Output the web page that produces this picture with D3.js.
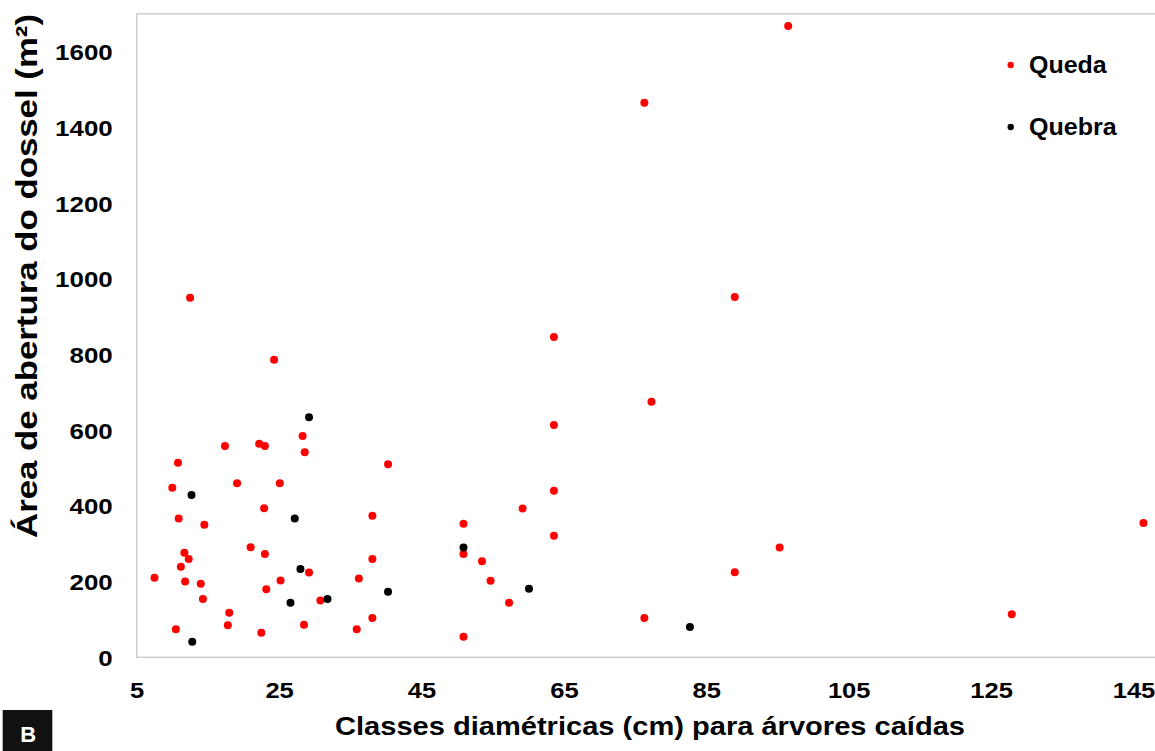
<!DOCTYPE html>
<html>
<head>
<meta charset="utf-8">
<script src="https://cdn.jsdelivr.net/npm/d3@7"></script>
<style>
  html, body { margin: 0; padding: 0; background: #fff; }
  svg { display: block; }
  text { font-family: "Liberation Sans", Arial, sans-serif; font-weight: bold; fill: #000; }
</style>
</head>
<body>
<svg id="chart" width="1155" height="751"></svg>
<script>
// ---- data ----
const quedaDiam = [96.5, 76.3, 12.5, 89.0, 24.3, 63.6, 77.3, 63.6, 63.6, 63.6, 59.2, 50.9, 50.9, 53.5,
  54.7, 57.3, 76.3, 89.0, 50.9, 95.3, 146.4, 127.9,
  28.3, 17.4, 22.2, 23.0, 28.6, 10.8, 40.3, 10.0, 19.1, 25.1, 22.9, 10.9, 14.5, 38.1, 21.0, 23.0,
  11.7, 12.3, 11.2, 38.1, 29.2, 7.5, 11.8, 14.0, 25.2, 36.2, 23.2, 14.3, 30.8, 18.0, 38.1, 10.5,
  17.8, 22.5, 28.5, 35.9];
const quedaArea = [1668, 1465, 950, 952, 786, 846, 675, 614, 440, 321, 393, 353, 273, 254,
  202, 144, 104, 225, 54, 290, 355, 114,
  585, 558, 564, 558, 542, 514, 510, 448, 460, 460, 394, 367, 350, 374, 291, 273,
  276, 260, 239, 260, 224, 210, 200, 194, 203, 208, 180, 154, 150, 118, 104, 74,
  85, 65, 86, 74];
const quebraDiam = [29.2, 12.7, 27.2, 28.0, 26.6, 31.8, 40.3, 12.8, 50.9, 60.1, 82.7];
const quebraArea = [634, 429, 367, 233, 144, 154, 173, 41, 290, 181, 80];

const xTicks = [5, 25, 45, 65, 85, 105, 125, 145];
const yTicks = [0, 200, 400, 600, 800, 1000, 1200, 1400, 1600];
const seriesNames = ["Queda", "Quebra"];
const seriesColors = ["#ff0000", "#000000"];
const xTitle = "Classes diamétricas (cm) para árvores caídas";
const yTitle = "Área de abertura do dossel (m²)";
const panelLabel = "B";

// ---- layout ----
const svg = d3.select("#chart");
const plotLeft = 136.7, plotTop = 13.85, plotBottom = 657.3;
const x = d3.scaleLinear().domain([5, 155]).range([plotLeft, plotLeft + 150 * 7.12]);
const y = d3.scaleLinear().domain([0, 1700]).range([plotBottom, plotTop]);

// frame
svg.append("rect")
  .attr("x", x(5)).attr("y", y(1700))
  .attr("width", x(155) - x(5)).attr("height", y(0) - y(1700))
  .attr("fill", "none").attr("stroke", "#c4c4c4").attr("stroke-width", 1.2);

// x axis
const gx = svg.append("g").attr("transform", `translate(0,${plotBottom})`)
  .call(d3.axisBottom(x).tickValues(xTicks).tickSize(0).tickFormat(d3.format("d")));
gx.select(".domain").remove();
gx.selectAll("text")
  .attr("y", 40.7).attr("dy", 0)
  .style("font-size", "22px")
  .style("font-family", '"Liberation Sans", Arial, sans-serif')
  .style("font-weight", "bold")
  .attr("fill", "#000")
  .attr("textLength", d => String(d).length * 14.2)
  .attr("lengthAdjust", "spacingAndGlyphs");

// y axis
const gy = svg.append("g").attr("transform", `translate(${plotLeft},0)`)
  .call(d3.axisLeft(y).tickValues(yTicks).tickSize(0).tickFormat(d3.format("d")));
gy.select(".domain").remove();
gy.selectAll("text")
  .attr("x", -24).attr("dy", "0.36em")
  .style("font-size", "22px")
  .style("font-family", '"Liberation Sans", Arial, sans-serif')
  .style("font-weight", "bold")
  .attr("fill", "#000")
  .attr("textLength", d => String(d).length * 14.4)
  .attr("lengthAdjust", "spacingAndGlyphs");

// points
const queda = quedaDiam.map((d, i) => ({ d, a: quedaArea[i] }));
const quebra = quebraDiam.map((d, i) => ({ d, a: quebraArea[i] }));
svg.append("g").selectAll("circle").data(queda).join("circle")
  .attr("cx", p => x(p.d)).attr("cy", p => y(p.a)).attr("r", 4)
  .attr("fill", seriesColors[0]);
svg.append("g").selectAll("circle").data(quebra).join("circle")
  .attr("cx", p => x(p.d)).attr("cy", p => y(p.a)).attr("r", 4)
  .attr("fill", seriesColors[1]);

// legend
const legendY = [65, 127];
const legendW = [77.7, 87.7];
seriesNames.forEach((name, i) => {
  svg.append("circle").attr("cx", 1010.7).attr("cy", legendY[i]).attr("r", 3.2)
    .attr("fill", seriesColors[i]);
  svg.append("text").attr("x", 1029).attr("y", legendY[i] + 8.2)
    .style("font-size", "24px")
    .attr("textLength", legendW[i]).attr("lengthAdjust", "spacingAndGlyphs")
    .text(name);
});

// axis titles
svg.append("text").attr("x", 335).attr("y", 735.3)
  .style("font-size", "25px")
  .attr("textLength", 630).attr("lengthAdjust", "spacingAndGlyphs")
  .text(xTitle);

svg.append("text")
  .attr("transform", "translate(37,538) rotate(-90)")
  .attr("x", 0).attr("y", 0)
  .style("font-size", "30px")
  .attr("textLength", 524).attr("lengthAdjust", "spacingAndGlyphs")
  .text(yTitle);

// panel label
svg.append("rect").attr("x", 2.7).attr("y", 710).attr("width", 49.6).attr("height", 45)
  .attr("fill", "#111");
svg.append("text").attr("x", 28.3).attr("y", 741.7).attr("text-anchor", "middle")
  .style("font-size", "22px").style("fill", "#fff")
  .text(panelLabel);
</script>
</body>
</html>
